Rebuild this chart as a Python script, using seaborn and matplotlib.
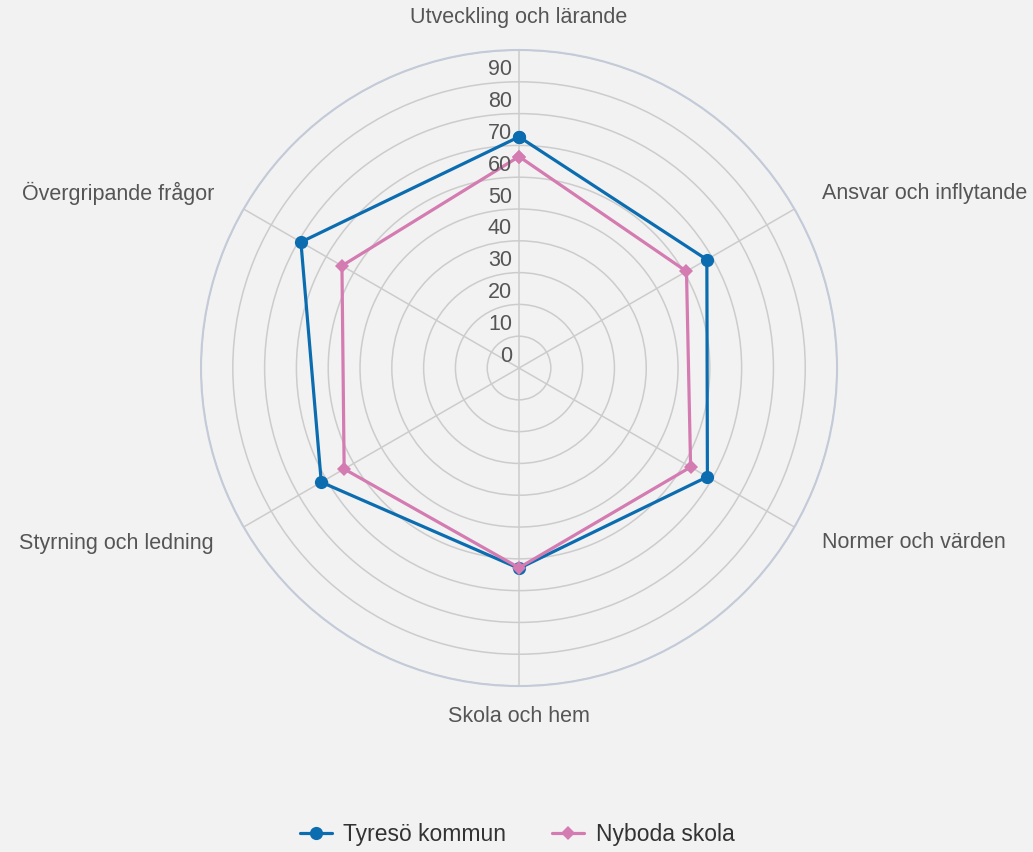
import numpy as np
import pandas as pd
import matplotlib.pyplot as plt
import seaborn as sns

categories = ["Utveckling och lärande", "Ansvar och inflytande", "Normer och värden",
              "Skola och hem", "Styrning och ledning", "Övergripande frågor"]
tyreso = [72.7, 68.2, 68.4, 63.0, 71.8, 79.2]
nyboda = [66.5, 60.8, 62.3, 62.8, 63.5, 64.3]
series_names = ["Tyresö kommun", "Nyboda skola"]
ticks = [0, 10, 20, 30, 40, 50, 60, 70, 80, 90]

BG = "#f2f2f2"
BLUE = "#0b6db0"
PINK = "#d47bb2"

sns.set_style("white")
plt.rcParams["font.family"] = ["Liberation Sans", "DejaVu Sans"]

angles = np.linspace(0, 2 * np.pi, len(categories), endpoint=False)
rows = []
for name, vals in zip(series_names, [tyreso, nyboda]):
    for i in range(len(categories)):
        rows.append({"series": name, "theta": angles[i], "value": vals[i]})
    rows.append({"series": name, "theta": 2 * np.pi, "value": vals[0]})
df = pd.DataFrame(rows)

fig = plt.figure(figsize=(10.33, 8.52), dpi=100, facecolor=BG)
ax = fig.add_axes([0.1946, 0.1948, 0.6157, 0.7465], projection="polar")
ax.set_facecolor(BG)
ax.set_theta_zero_location("N")
ax.set_theta_direction(-1)
ax.set_ylim(0, 100)

# grid
ax.set_yticks(range(10, 101, 10))
ax.set_yticklabels([])
ax.set_xticks(angles)
ax.set_xticklabels([])
ax.grid(True, color="#cccccc", linewidth=1.1)
ax.spines["polar"].set_color("#c3cad8")
ax.spines["polar"].set_linewidth(1.5)
ax.tick_params(length=0)

sns.lineplot(data=df, x="theta", y="value", hue="series", style="series",
             palette={series_names[0]: BLUE, series_names[1]: PINK},
             markers={series_names[0]: "o", series_names[1]: "D"},
             dashes=False, sort=False, estimator=None, linewidth=2.3,
             markeredgewidth=0, ax=ax, legend=True)
ax.lines[0].set_markersize(9.5)
ax.lines[1].set_markersize(7.5)

# radial labels
for t in ticks:
    ax.annotate(str(t), xy=(0, t), xytext=(-7, 12), textcoords="offset pixels",
                ha="right", va="center", fontsize=15.5, color="#555555")

# category labels
lab = dict(fontsize=15.5, color="#555555")
fig.text(519 / 1033, 1 - 18 / 852, categories[0], ha="center", va="center", **lab)
fig.text(822 / 1033, 1 - 193 / 852, categories[1], ha="left", va="center", **lab)
fig.text(822 / 1033, 1 - 543 / 852, categories[2], ha="left", va="center", **lab)
fig.text(519 / 1033, 1 - 716 / 852, categories[3], ha="center", va="center", **lab)
fig.text(214 / 1033, 1 - 543 / 852, categories[4], ha="right", va="center", **lab)
fig.text(214 / 1033, 1 - 193 / 852, categories[5], ha="right", va="center", **lab)

ax.set_xlabel("")
ax.set_ylabel("")
handles, labels = ax.get_legend_handles_labels()
ax.legend_.remove()
for h, ms in zip(handles, [9.5, 7.5]):
    h.set_markersize(ms)
fig.legend(handles, labels, loc="center", bbox_to_anchor=(517 / 1033, 1 - 835 / 852),
           ncol=2, frameon=False, fontsize=16.5, handlelength=1.4,
           columnspacing=2.0, handletextpad=0.5, labelcolor="#333333")

fig.savefig("out.png", dpi=100, facecolor=BG)
